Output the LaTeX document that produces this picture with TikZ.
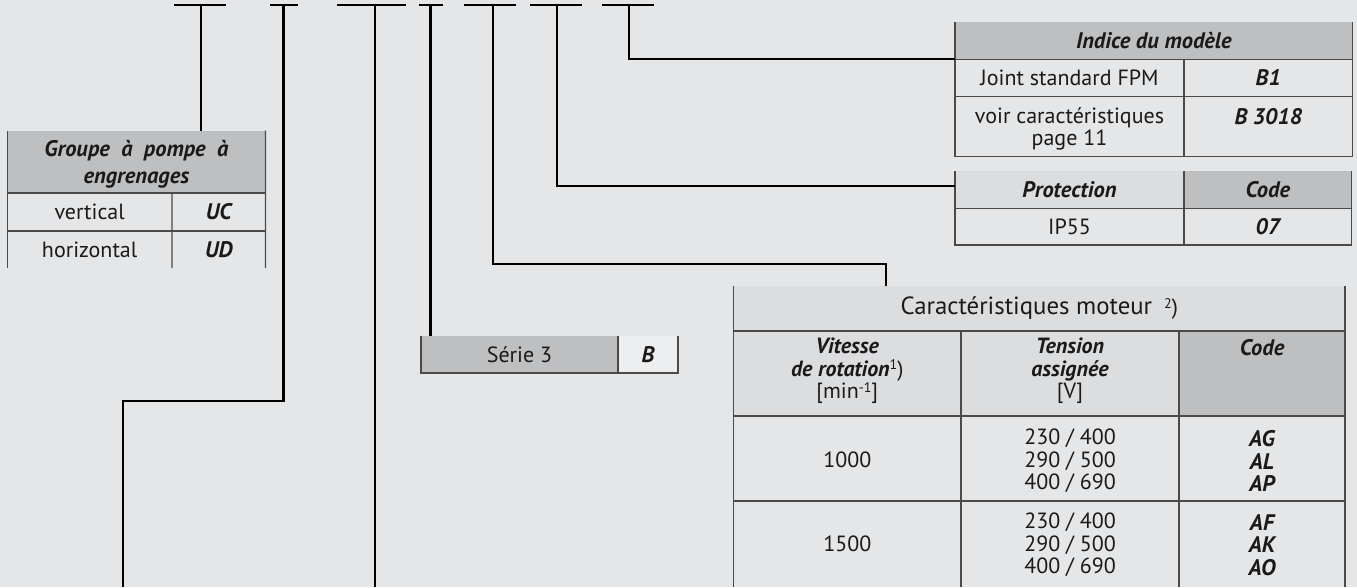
\documentclass[tikz,border=0pt]{standalone}
\usepackage{fontspec}
\setmainfont{PT Sans}
\definecolor{bg}{HTML}{E5E6E8}
\definecolor{hdr}{HTML}{BEBFC1}
\definecolor{lhdr}{HTML}{DCDDDF}
\definecolor{wcell}{HTML}{EDEEF0}
\definecolor{rule}{HTML}{4A4A4A}
\definecolor{ink}{HTML}{1A1A1A}
\newcommand{\regf}{\fontsize{22}{22.5}\selectfont}
\newcommand{\bif}{\fontsize{22.5}{22.5}\selectfont\bfseries\itshape}
\newcommand{\bigf}{\fontsize{24.8}{28}\selectfont}
\newcommand{\supf}{\fontsize{14}{14}\selectfont}
\tikzset{
  conn/.style={line width=2.2pt, black},
  bar/.style={line width=2.2pt, black},
  gridl/.style={line width=1.1pt, rule},
  cell/.style={inner sep=0pt, outer sep=0pt, align=center, text=ink, font=\regf},
  bcell/.style={cell, font=\bif},
  txt/.style={inner sep=0pt, outer sep=0pt, align=center, text=ink, font=\regf},
  btxt/.style={txt, font=\bif}
}
\begin{document}
\begin{tikzpicture}[x=1pt,y=-1pt]
\useasboundingbox (0,0) rectangle (1357,587);
\fill[bg] (0,0) rectangle (1357,587);

% ---------- Group table ----------
\fill[hdr] (7.3,130.7) rectangle (265.5,193);
\node[bcell, minimum width=258.2, minimum height=62.3,
      font=\fontsize{22.5}{27}\selectfont\bfseries\itshape] (gh) at (136.4,161.85) {};
\node[btxt, font=\fontsize{22.5}{27}\selectfont\bfseries\itshape] (ght) at (136.4,164.5) {Groupe\ \ à\ \ pompe\ \ à\\engrenages};
\node[cell, minimum width=164.7, minimum height=38] (g1a) at (89.65,212) {vertical};
\node[bcell, minimum width=93.5, minimum height=38] (g1b) at (218.75,212) {UC};
\node[cell, minimum width=164.7, minimum height=37] (g2a) at (89.65,249.5) {horizontal};
\node[bcell, minimum width=93.5, minimum height=37] (g2b) at (218.75,249.5) {UD};
\draw[gridl] (gh.north west) -- (7.3,268);
\draw[gridl] (gh.north east) -- (265.5,268);
\draw[gridl] (gh.south west) -- (gh.south east);
\draw[gridl] (g1a.south west) -- (g1b.south east);
\draw[gridl] (g1a.north east) -- (172,268);

% ---------- Indice du modele ----------
\node[bcell, fill=hdr, minimum width=397.5, minimum height=37.3] (ih) at (1153.75,40.65) {Indice\ du\ modèle};
\node[cell, minimum width=229, minimum height=37.4] (i1a) at (1069.5,78) {Joint standard FPM};
\node[bcell, minimum width=168.5, minimum height=37.4] (i1b) at (1268.25,78) {B1};
\node[txt] (i2a) at (1069.5,129) {voir caractéristiques\\page 11};
\node[btxt] (i2b) at (1268.25,117) {B 3018};
\draw[gridl] (ih.north west) -- (955,156.7) -- (1352.5,156.7) -- (ih.north east);
\draw[gridl] (ih.south west) -- (ih.south east);
\draw[gridl] (i1a.south west) -- (i1b.south east);
\draw[gridl] (i1a.north east) -- (1184,156.7);

% ---------- Protection ----------
\node[bcell, fill=lhdr, minimum width=229, minimum height=37.3] (pa) at (1069.5,189.65) {Protection};
\node[bcell, fill=hdr, minimum width=167.5, minimum height=37.3] (pb) at (1267.75,189.65) {Code};
\node[cell, minimum width=229, minimum height=36.7] (p1a) at (1069.5,226.65) {IP55};
\node[bcell, minimum width=167.5, minimum height=36.7] (p1b) at (1267.75,226.65) {07};
\draw[gridl] (pa.north west) -- (p1a.south west) -- (p1b.south east) -- (pb.north east);
\draw[gridl] (pa.south west) -- (pb.south east);
\draw[gridl] (pa.north east) -- (p1a.south east);

% ---------- Serie ----------
\node[cell, fill=hdr, minimum width=197, minimum height=37] (sa) at (519.5,354.5) {Série 3};
\node[bcell, fill=wcell, minimum width=60, minimum height=37] (sb) at (648,354.5) {B};
\draw[gridl] (sa.north west) -- (sa.south west) -- (sb.south east) -- (sb.north east);
\draw[gridl] (sa.north east) -- (sa.south east);

% ---------- Caracteristiques moteur ----------
\node[cell, fill=lhdr, minimum width=611.5, minimum height=45, font=\bigf] (ch) at (1039.25,308.5)
  {Caractéristiques moteur\hspace{12pt}{\regf\raisebox{0.6ex}{\supf 2})}};
\fill[lhdr] (733.5,331) rectangle (1179,416);
\fill[hdr] (1179,331) rectangle (1345,416);
\node[txt] (cv) at (847.25,371) {\textbf{\textit{Vitesse}}\\\textbf{\textit{de rotation}}\raisebox{0.6ex}{\supf 1})\\{}[min\raisebox{0.6ex}{\supf -1}]};
\node[txt] (ct) at (1070,371) {\textbf{\textit{Tension}}\\\textbf{\textit{assignée}}\\{}[V]};
\node[btxt, anchor=base] (cc) at (1262,355) {Code};
\node[txt] (r1a) at (847.25,460) {1000};
\node[txt] (r1b) at (1070,461) {230 / 400\\290 / 500\\400 / 690};
\node[btxt] (r1c) at (1262,461) {AG\\AL\\AP};
\node[txt] (r2a) at (847.25,543.5) {1500};
\node[txt] (r2b) at (1070,545) {230 / 400\\290 / 500\\400 / 690};
\node[btxt] (r2c) at (1262,545) {AF\\AK\\AO};
\draw[gridl] (ch.north west) -- (733.5,587);
\draw[gridl] (ch.north east) -- (1345,587);
\draw[gridl] (ch.south west) -- (ch.south east);
\draw[gridl] (733.5,416) -- (1345,416);
\draw[gridl] (733.5,501) -- (1345,501);
\draw[gridl] (961,331) -- (961,587);
\draw[gridl] (1179,331) -- (1179,587);

% ---------- Top bars ----------
\coordinate (s1) at (200.8,5);
\coordinate (s2) at (283.5,5);
\coordinate (s3) at (375,5);
\coordinate (s4) at (430.5,5);
\coordinate (s5) at (493,5);
\coordinate (s6) at (557,5);
\coordinate (s7) at (629,5);
\draw[bar] (173.5,5) -- (225.5,5);
\draw[bar] (269.7,5) -- (298.4,5);
\draw[bar] (337.4,5) -- (405.5,5);
\draw[bar] (418.5,5) -- (443.2,5);
\draw[bar] (464,5) -- (516,5);
\draw[bar] (530,5) -- (582,5);
\draw[bar] (602,5) -- (654,5);

% ---------- Connectors ----------
\coordinate (k2) at (123.3,401);
\coordinate (e2) at (123.3,587);
\coordinate (e3) at (375,587);
\coordinate (k5) at (886,264);
\coordinate (k6) at (955,186);
\draw[conn] (s1) -- (s1 |- gh.north);
\draw[conn] (s2) |- (k2) -- (e2);
\draw[conn] (s3) -- (e3);
\draw[conn] (s4) -- (s4 |- sa.north);
\draw[conn] (s5) |- (k5) -- (k5 |- ch.north);
\draw[conn] (s6) |- (k6);
\draw[conn] (s7) |- (ih.south west);
\end{tikzpicture}
\end{document}
